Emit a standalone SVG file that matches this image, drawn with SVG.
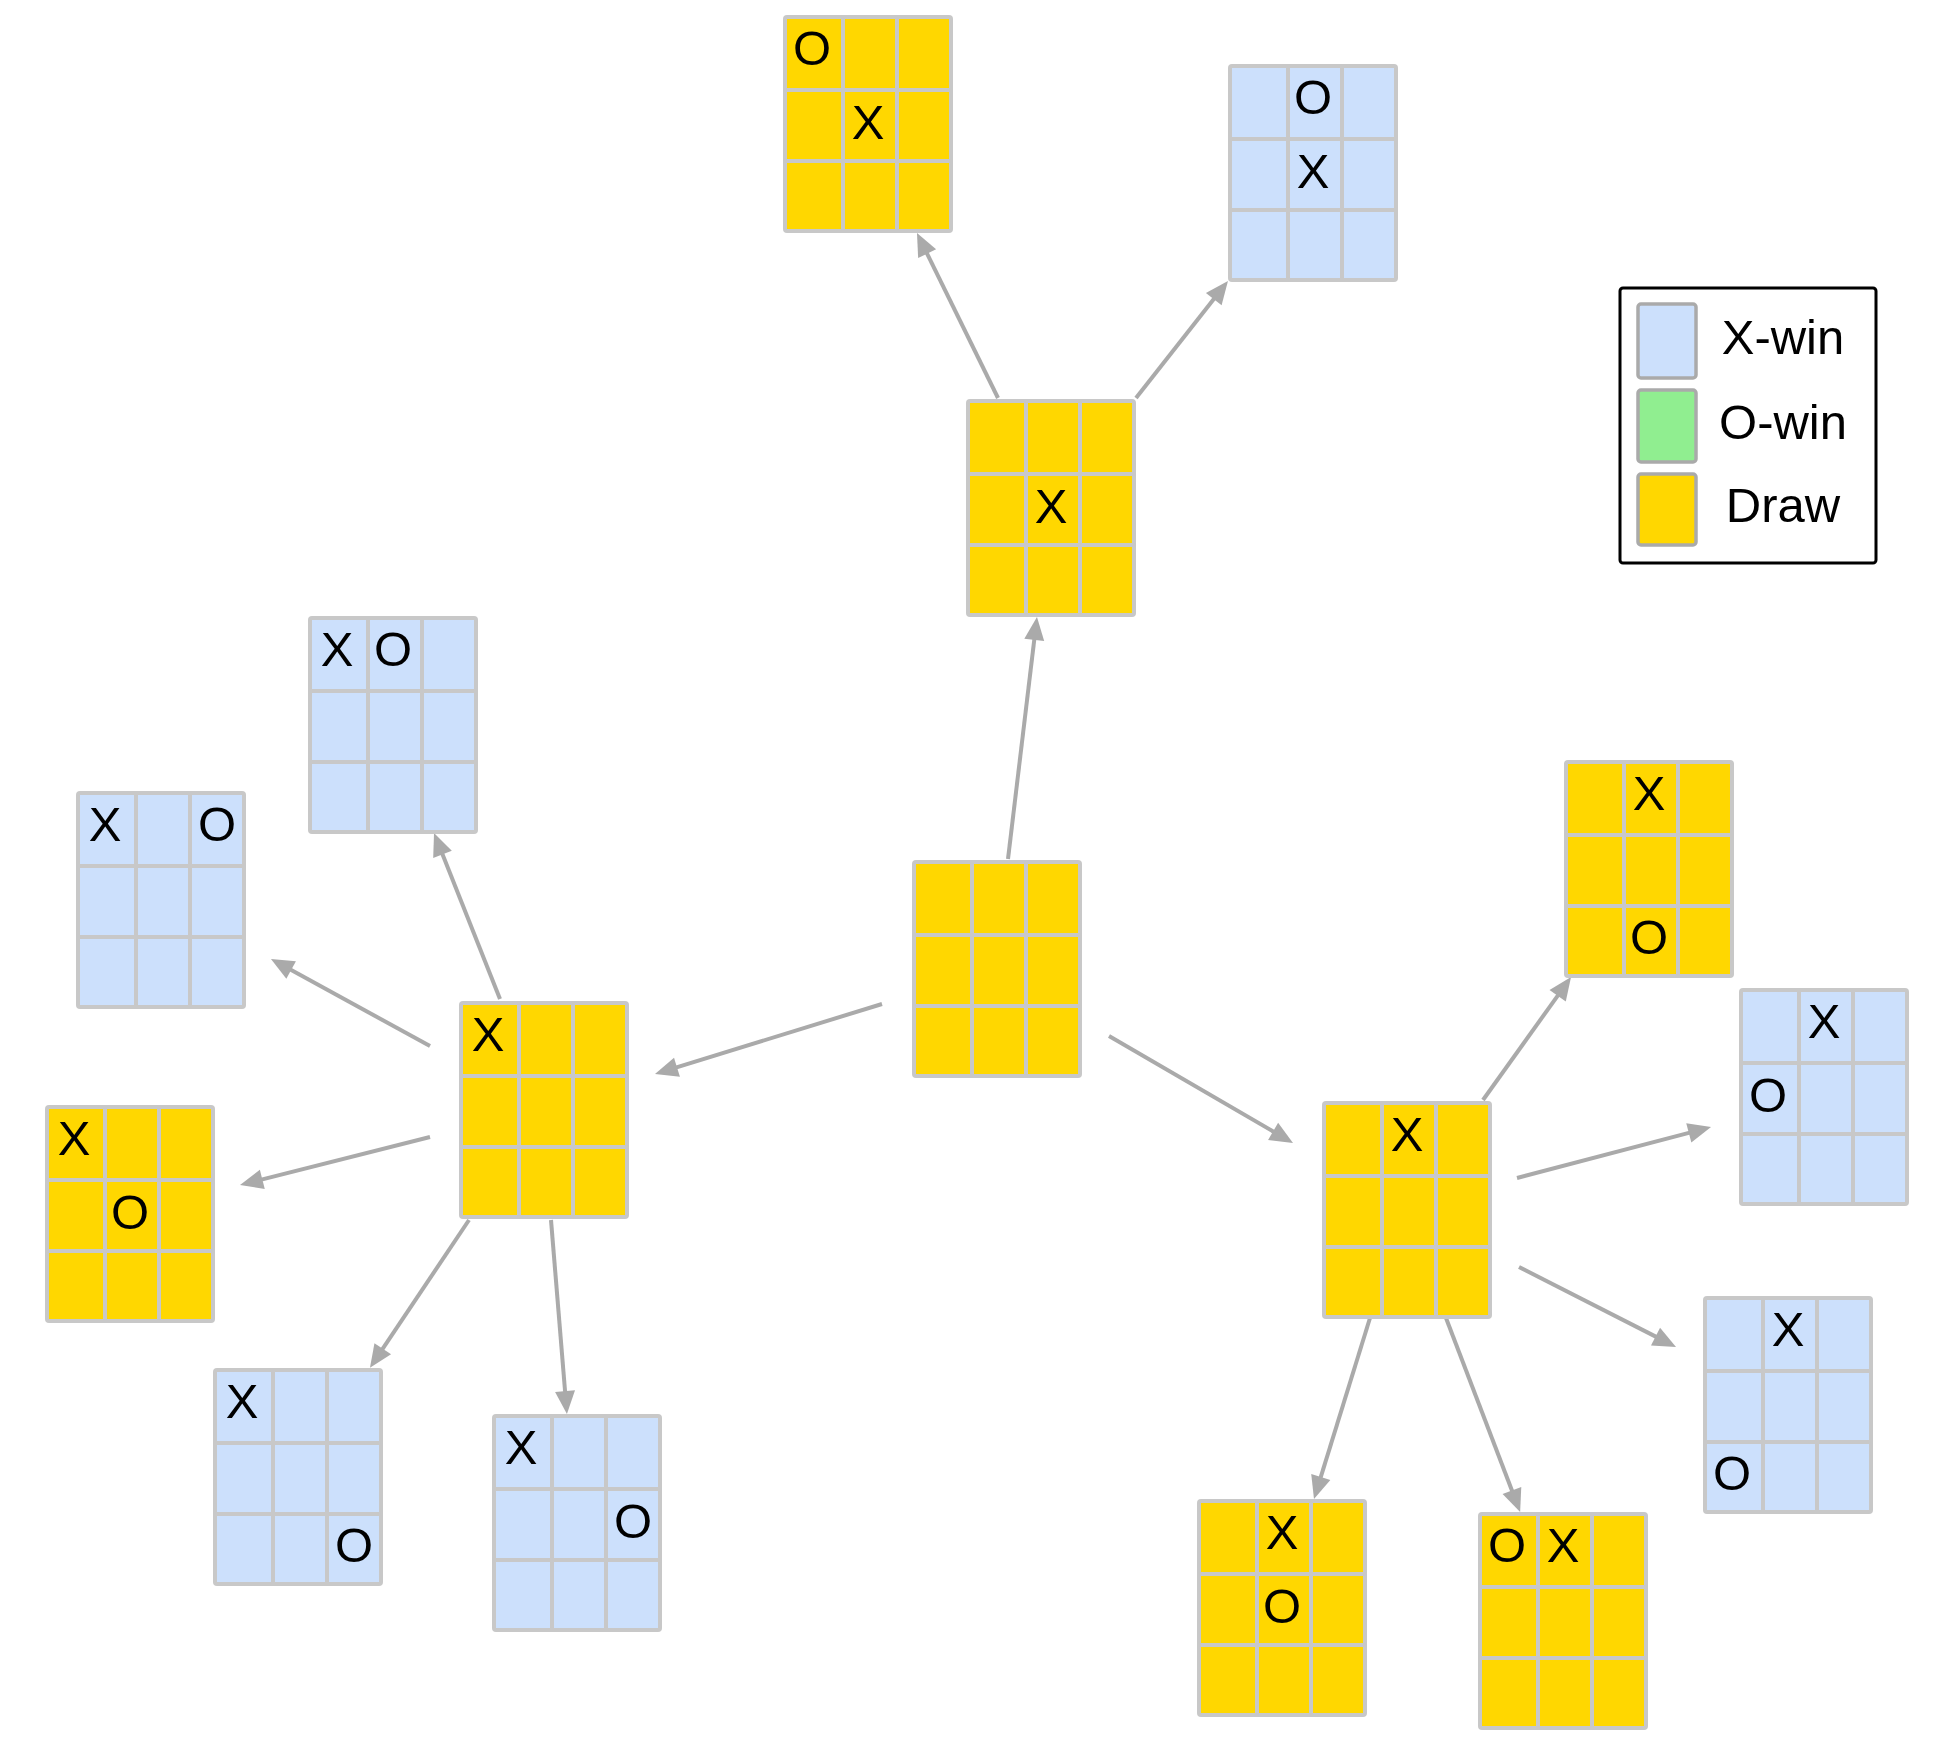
<svg xmlns="http://www.w3.org/2000/svg" xmlns:xlink="http://www.w3.org/1999/xlink" width="1951" height="1746" viewBox="0 0 1951 1746">
<style>
.mark{font-family:"Liberation Sans",Arial,sans-serif;font-size:49px;fill:#000;text-anchor:middle}
.edge{stroke:#aaaaaa;stroke-width:4;fill:none}
.cy{fill:#ffd700}
.cb{fill:#cce0fc}
.lg{font-family:"Liberation Sans",Arial,sans-serif;font-size:49px;fill:#000;text-anchor:middle}
</style>
<defs>
<marker id="arr" markerUnits="userSpaceOnUse" markerWidth="40" markerHeight="40" refX="0" refY="0" viewBox="-10 -20 40 40" orient="auto" overflow="visible">
<path d="M-3,-10 L20,0 L-3,10 Z" fill="#aaaaaa"/>
</marker>
<g id="boardY">
<rect width="170" height="218" rx="4" fill="#c8c8c8"/>
<rect class="cy" x="4" y="4" width="54" height="69"/><rect class="cy" x="62" y="4" width="50" height="69"/><rect class="cy" x="116" y="4" width="50" height="69"/>
<rect class="cy" x="4" y="77" width="54" height="67"/><rect class="cy" x="62" y="77" width="50" height="67"/><rect class="cy" x="116" y="77" width="50" height="67"/>
<rect class="cy" x="4" y="148" width="54" height="66"/><rect class="cy" x="62" y="148" width="50" height="66"/><rect class="cy" x="116" y="148" width="50" height="66"/>
</g>
<g id="boardB">
<rect width="170" height="218" rx="4" fill="#c8c8c8"/>
<rect class="cb" x="4" y="4" width="54" height="69"/><rect class="cb" x="62" y="4" width="50" height="69"/><rect class="cb" x="116" y="4" width="50" height="69"/>
<rect class="cb" x="4" y="77" width="54" height="67"/><rect class="cb" x="62" y="77" width="50" height="67"/><rect class="cb" x="116" y="77" width="50" height="67"/>
<rect class="cb" x="4" y="148" width="54" height="66"/><rect class="cb" x="62" y="148" width="50" height="66"/><rect class="cb" x="116" y="148" width="50" height="66"/>
</g>
</defs>
<rect width="1951" height="1746" fill="#ffffff"/>
<g id="connectors">
<line class="edge" x1="1008" y1="859" x2="1034.6" y2="636.9" marker-end="url(#arr)"/>
<line class="edge" x1="998" y1="398" x2="925.8" y2="251" marker-end="url(#arr)"/>
<line class="edge" x1="1136" y1="398" x2="1215.6" y2="296.7" marker-end="url(#arr)"/>
<line class="edge" x1="882" y1="1004" x2="674.1" y2="1068.1" marker-end="url(#arr)"/>
<line class="edge" x1="1109" y1="1036" x2="1275.7" y2="1132.9" marker-end="url(#arr)"/>
<line class="edge" x1="500" y1="999" x2="441.4" y2="851.6" marker-end="url(#arr)"/>
<line class="edge" x1="430" y1="1046" x2="288.5" y2="968.6" marker-end="url(#arr)"/>
<line class="edge" x1="430" y1="1137" x2="259.4" y2="1180.1" marker-end="url(#arr)"/>
<line class="edge" x1="469" y1="1220" x2="381.1" y2="1351.2" marker-end="url(#arr)"/>
<line class="edge" x1="551" y1="1220" x2="565.3" y2="1394.1" marker-end="url(#arr)"/>
<line class="edge" x1="1483" y1="1100" x2="1559.4" y2="993.3" marker-end="url(#arr)"/>
<line class="edge" x1="1517" y1="1178" x2="1691.7" y2="1132.1" marker-end="url(#arr)"/>
<line class="edge" x1="1519" y1="1267" x2="1658.2" y2="1337.9" marker-end="url(#arr)"/>
<line class="edge" x1="1370" y1="1318" x2="1319.9" y2="1479.9" marker-end="url(#arr)"/>
<line class="edge" x1="1446" y1="1318" x2="1513" y2="1493.3" marker-end="url(#arr)"/>
</g>
<g id="root" transform="translate(912,860)"><use xlink:href="#boardY"/></g>
<g id="n1" transform="translate(966,399)"><use xlink:href="#boardY"/><text class="mark" x="85" y="124">X</text></g>
<g id="n1a" transform="translate(783,15)"><use xlink:href="#boardY"/><text class="mark" x="29" y="50">O</text><text class="mark" x="85" y="124">X</text></g>
<g id="n1b" transform="translate(1228,64)"><use xlink:href="#boardB"/><text class="mark" x="85" y="50">O</text><text class="mark" x="85" y="124">X</text></g>
<g id="n2" transform="translate(459,1001)"><use xlink:href="#boardY"/><text class="mark" x="29" y="50">X</text></g>
<g id="n2a" transform="translate(308,616)"><use xlink:href="#boardB"/><text class="mark" x="29" y="50">X</text><text class="mark" x="85" y="50">O</text></g>
<g id="n2b" transform="translate(76,791)"><use xlink:href="#boardB"/><text class="mark" x="29" y="50">X</text><text class="mark" x="141" y="50">O</text></g>
<g id="n2c" transform="translate(45,1105)"><use xlink:href="#boardY"/><text class="mark" x="29" y="50">X</text><text class="mark" x="85" y="124">O</text></g>
<g id="n2d" transform="translate(213,1368)"><use xlink:href="#boardB"/><text class="mark" x="29" y="50">X</text><text class="mark" x="141" y="194">O</text></g>
<g id="n2e" transform="translate(492,1414)"><use xlink:href="#boardB"/><text class="mark" x="29" y="50">X</text><text class="mark" x="141" y="124">O</text></g>
<g id="n3" transform="translate(1322,1101)"><use xlink:href="#boardY"/><text class="mark" x="85" y="50">X</text></g>
<g id="n3a" transform="translate(1564,760)"><use xlink:href="#boardY"/><text class="mark" x="85" y="50">X</text><text class="mark" x="85" y="194">O</text></g>
<g id="n3b" transform="translate(1739,988)"><use xlink:href="#boardB"/><text class="mark" x="85" y="50">X</text><text class="mark" x="29" y="124">O</text></g>
<g id="n3c" transform="translate(1703,1296)"><use xlink:href="#boardB"/><text class="mark" x="85" y="50">X</text><text class="mark" x="29" y="194">O</text></g>
<g id="n3d" transform="translate(1197,1499)"><use xlink:href="#boardY"/><text class="mark" x="85" y="50">X</text><text class="mark" x="85" y="124">O</text></g>
<g id="n3e" transform="translate(1478,1512)"><use xlink:href="#boardY"/><text class="mark" x="29" y="50">O</text><text class="mark" x="85" y="50">X</text></g>
<g id="legend">
<rect x="1620" y="288" width="256" height="275" rx="3" fill="#ffffff" stroke="#000000" stroke-width="3"/>
<rect x="1638" y="304" width="58" height="74" rx="3" fill="#cce0fc" stroke="#aaaaaa" stroke-width="3.5"/>
<rect x="1638" y="390" width="58" height="72" rx="3" fill="#90ee90" stroke="#aaaaaa" stroke-width="3.5"/>
<rect x="1638" y="474" width="58" height="71" rx="3" fill="#ffd700" stroke="#aaaaaa" stroke-width="3.5"/>
<text class="lg" x="1783" y="354">X-win</text>
<text class="lg" x="1783" y="439">O-win</text>
<text class="lg" x="1783" y="522">Draw</text>
</g>
</svg>
